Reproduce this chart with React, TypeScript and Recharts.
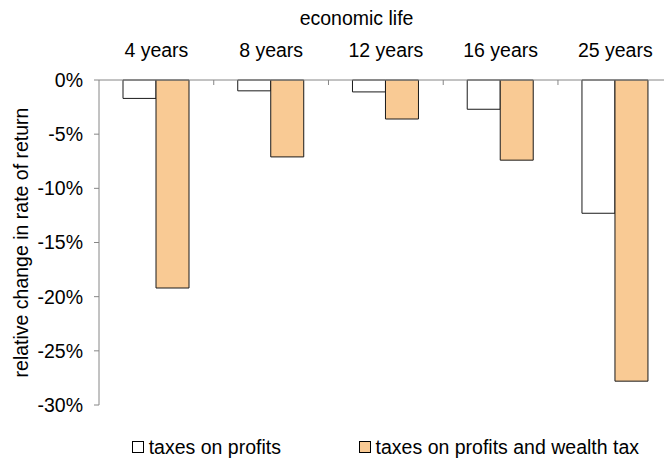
import React from 'react';
import { BarChart, Bar, XAxis, YAxis, Legend, Label } from 'recharts';

const categories = ['4 years', '8 years', '12 years', '16 years', '25 years'];
const profitsTax = [-1.7, -1.0, -1.1, -2.7, -12.3];
const profitsWealthTax = [-19.2, -7.1, -3.6, -7.4, -27.8];
const yTicks = [0, -5, -10, -15, -20, -25, -30];
const seriesNames = ['taxes on profits', 'taxes on profits and wealth tax'];
const seriesFills = ['#ffffff', '#F9CA94'];

const data = categories.map((c, i) => ({
  name: c,
  a: profitsTax[i],
  b: profitsWealthTax[i],
}));

const FONT = '"Liberation Sans", Arial, sans-serif';
const FS = 19.5;
const AXIS = '#868686';
const X_TICK_MARGIN = 23;

const TopTick = (props: any) => {
  const { x, y, payload } = props;
  const axisY = y + X_TICK_MARGIN;
  let half = payload && typeof payload.offset === 'number' ? payload.offset : 0;
  if (!half && props.width && props.visibleTicksCount) {
    half = props.width / props.visibleTicksCount / 2;
  }
  return (
    <g>
      <text x={x} y={y} textAnchor="middle" fontSize={FS} fontFamily={FONT} fill="#000">
        {payload.value}
      </text>
      <line x1={x + half} x2={x + half} y1={axisY} y2={axisY + 5} stroke={AXIS} strokeWidth={1} />
    </g>
  );
};

const LegendContent = (props: any) => {
  const payload = props.payload || [];
  return (
    <div
      style={{
        display: 'flex',
        alignItems: 'center',
        fontFamily: FONT,
        fontSize: FS,
        color: '#000',
        lineHeight: '22px',
        whiteSpace: 'nowrap',
      }}
    >
      {payload.map((entry: any, i: number) => (
        <div key={i} style={{ display: 'flex', alignItems: 'center', marginLeft: i === 0 ? 0 : 77.7 }}>
          <span
            style={{
              display: 'inline-block',
              width: 12,
              height: 12,
              boxSizing: 'border-box',
              border: '1px solid #000',
              background: seriesFills[i],
              marginRight: 5,
            }}
          />
          <span>{entry.value}</span>
        </div>
      ))}
    </div>
  );
};

export default function App() {
  return (
    <div style={{ position: 'absolute', left: 8, top: 8, width: 656, height: 451, overflow: 'hidden', background: '#fff' }}>
      <BarChart
        width={680}
        height={451}
        data={data}
        margin={{ top: 0, right: 15.3, bottom: 54, left: 0 }}
        barGap={0}
        barSize={33}
        style={{ fontFamily: FONT }}
      >
        <XAxis
          dataKey="name"
          orientation="top"
          height={72}
          tickSize={0}
          tickMargin={X_TICK_MARGIN}
          tickLine={false}
          axisLine={{ stroke: AXIS, strokeWidth: 1 }}
          tick={<TopTick />}
          interval={0}
        >
          <Label
            value="economic life"
            position="insideTop"
            offset={3}
            dx={-29.3}
            fontSize={FS}
            fontFamily={FONT}
            fill="#000"
          />
        </XAxis>
        <YAxis
          type="number"
          domain={[-30, 0]}
          ticks={yTicks}
          interval={0}
          width={91}
          tickSize={5}
          tickMargin={11}
          tickFormatter={(v: number) => `${v}%`}
          tick={{ fontSize: FS, fontFamily: FONT, fill: '#000' }}
          tickLine={{ stroke: AXIS, strokeWidth: 1 }}
          axisLine={{ stroke: AXIS, strokeWidth: 1 }}
        >
          <Label
            value="relative change in rate of return"
            angle={-90}
            position="insideLeft"
            offset={13.5}
            style={{ textAnchor: 'middle' }}
            fontSize={FS}
            fontFamily={FONT}
            fill="#000"
          />
        </YAxis>
        <Legend
          layout="horizontal"
          verticalAlign="middle"
          align="center"
          content={<LegendContent />}
          wrapperStyle={{ left: 123.7, top: 428, width: 'auto', bottom: 'auto' }}
        />
        <Bar dataKey="a" name={seriesNames[0]} fill={seriesFills[0]} stroke="#1a1a1a" strokeWidth={1} isAnimationActive={false} />
        <Bar dataKey="b" name={seriesNames[1]} fill={seriesFills[1]} stroke="#1a1a1a" strokeWidth={1} isAnimationActive={false} />
      </BarChart>
    </div>
  );
}
